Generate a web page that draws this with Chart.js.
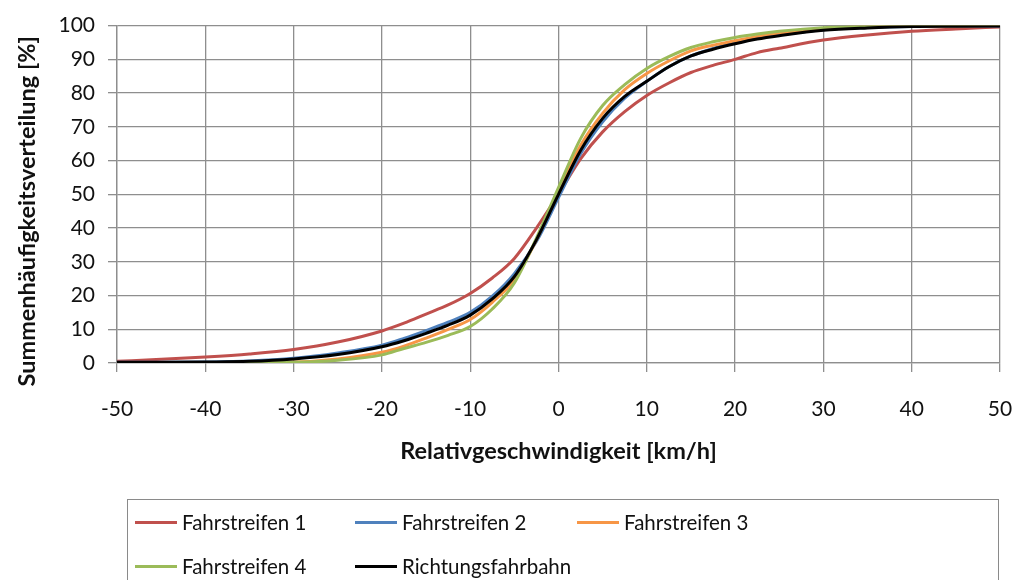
<!DOCTYPE html>
<html>
<head>
<meta charset="utf-8">
<script src="https://cdn.jsdelivr.net/npm/chart.js@4/dist/chart.umd.min.js"></script>
<style>
  body { margin: 0; background: #fff; }
  #wrap { position: relative; width: 1020px; height: 580px; overflow: hidden; }
  #legend {
    position: absolute; left: 127px; top: 499px; width: 872px; height: 100px;
    border: 1px solid #8a8a8a; box-sizing: border-box;
    font-family: Lato, "Open Sans", sans-serif; font-size: 20.5px; color: #111;
  }
  .item { position: absolute; height: 24px; display: flex; align-items: center; }
  .item span.line { display: inline-block; width: 42px; height: 3px; margin-right: 5px; }
</style>
</head>
<body>
<div id="wrap">
  <canvas id="myChart" width="1020" height="580"></canvas>
  <div id="legend"></div>
</div>
<script>
var speeds = [-50, -45, -40, -35, -30, -25, -20, -17.5, -15, -12.5, -10, -7.5, -5, -2.5, 0, 2.5, 5, 7.5, 10, 12.5, 15, 17.5, 20, 22.5, 25, 30, 35, 40, 45, 50]

var lane1 = [0.5, 1.1, 1.8, 2.7, 4.0, 6.2, 9.5, 11.8, 14.5, 17.2, 20.6, 25.2, 31.0, 40.0, 50, 60.5, 68.5, 74.5, 79.3, 83, 86.1, 88.2, 90, 92, 93.3, 95.7, 97.2, 98.3, 99.0, 99.6]
var lane2 = [0.2, 0.2, 0.3, 0.6, 1.4, 3.0, 5.3, 7.3, 9.6, 12.1, 15.0, 19.8, 26.5, 36, 49, 62, 71.5, 78.5, 83.5, 87.8, 91, 93.2, 95, 96.3, 97.3, 98.8, 99.4, 99.7, 99.8, 99.9]
var lane3 = [0, 0.05, 0.1, 0.2, 0.3, 1.2, 3.2, 5.0, 7.4, 10.0, 12.9, 18, 24.7, 36.5, 51, 64.5, 74, 81, 85.8, 89.5, 92.5, 94.2, 95.5, 96.8, 97.8, 99.1, 99.6, 99.8, 99.9, 100]
var lane4 = [0, 0, 0.05, 0.1, 0.2, 0.8, 2.4, 4.3, 6.1, 8.2, 10.8, 16.0, 23.7, 37, 52, 66.5, 76.3, 82.5, 87.3, 90.8, 93.5, 95.2, 96.5, 97.5, 98.3, 99.4, 99.8, 100, 100, 100]
var direction = [0.2, 0.2, 0.3, 0.5, 1.2, 2.5, 4.8, 6.6, 8.8, 11.2, 14.2, 19.0, 25.6, 36.5, 50, 63, 72.5, 79, 83.5, 87.8, 91, 93, 94.6, 96, 97, 98.6, 99.3, 99.7, 99.8, 99.9]

var seriesNames = ["Fahrstreifen 1", "Fahrstreifen 2", "Fahrstreifen 3", "Fahrstreifen 4", "Richtungsfahrbahn"]
var seriesColors = ["#C0504D", "#4F81BD", "#F79646", "#9BBB59", "#000000"]
var seriesValues = [lane1, lane2, lane3, lane4, direction]

var xTitle = "Relativgeschwindigkeit [km/h]"
var yTitle = "Summenhäufigkeitsverteilung [%]"

var gridColor = "#8e8e8e"
var fontFamily = "Lato, 'Open Sans', sans-serif"

function toPoints(values) {
    return speeds.map((x, i) => ({ x: x, y: values[i] }))
}

var datasets = seriesNames.map((name, i) => ({
    label: name,
    data: toPoints(seriesValues[i]),
    borderColor: seriesColors[i],
    backgroundColor: seriesColors[i],
    borderWidth: 3,
    pointRadius: 0,
    fill: false,
    cubicInterpolationMode: "monotone",
    order: 5 - i
}))

// y title drawn by hand, excel centers it a bit lower than chart.js would
const yTitlePlugin = {
    id: "yTitle",
    afterDraw(chart) {
        const ctx = chart.ctx
        const area = chart.chartArea
        ctx.save()
        ctx.translate(27, (area.top + area.bottom) / 2 + 17)
        ctx.rotate(-Math.PI / 2)
        ctx.font = "bold 23.5px " + fontFamily
        ctx.fillStyle = "#111"
        ctx.textAlign = "center"
        ctx.textBaseline = "middle"
        ctx.fillText(yTitle, 0, 0)
        ctx.restore()
    }
}

var chartField = document.querySelector("#myChart").getContext("2d")

var myChart = new Chart(chartField, {
    type: "line",
    data: { datasets: datasets },
    plugins: [yTitlePlugin],
    options: {
        responsive: false,
        animation: false,
        layout: { padding: { left: 0, top: 22, right: 20, bottom: 114 } },
        plugins: {
            legend: { display: false },
            tooltip: { enabled: false }
        },
        scales: {
            x: {
                type: "linear",
                min: -50,
                max: 50,
                afterFit: (scale) => {
                    scale.height = 103
                    scale.paddingLeft = 10
                    scale.paddingRight = 10
                },
                grid: { color: gridColor, lineWidth: 1.3, tickLength: 9, tickColor: gridColor },
                border: { color: gridColor, width: 1.3 },
                ticks: {
                    stepSize: 5,
                    autoSkip: false,
                    maxRotation: 0,
                    padding: 25,
                    color: "#111",
                    font: { family: fontFamily, size: 21 },
                    callback: (v) => (v % 10 === 0 ? String(v) : null)
                },
                title: {
                    display: true,
                    text: xTitle,
                    color: "#111",
                    font: { family: fontFamily, size: 23.5, weight: "bold" },
                    padding: { top: 0, bottom: 0 }
                }
            },
            y: {
                min: 0,
                max: 100,
                afterFit: (scale) => { scale.width = 117 },
                grid: { color: gridColor, lineWidth: 1.3, tickLength: 9, tickColor: gridColor },
                border: { color: gridColor, width: 1.3 },
                ticks: {
                    stepSize: 10,
                    padding: 13,
                    color: "#111",
                    font: { family: fontFamily, size: 21 },
                    callback: (v) => String(v)
                }
            }
        }
    }
})

// legend as html, three columns like the original
var legendBox = document.querySelector("#legend")
var colX = [7, 227, 449]
var rowY = [10, 54]
myChart.data.datasets.forEach((ds, i) => {
    var item = document.createElement("div")
    item.className = "item"
    item.style.left = colX[i % 3] + "px"
    item.style.top = rowY[Math.floor(i / 3)] + "px"
    var line = document.createElement("span")
    line.className = "line"
    line.style.background = ds.borderColor
    var label = document.createElement("span")
    label.textContent = ds.label
    item.appendChild(line)
    item.appendChild(label)
    legendBox.appendChild(item)
})
</script>
</body>
</html>
